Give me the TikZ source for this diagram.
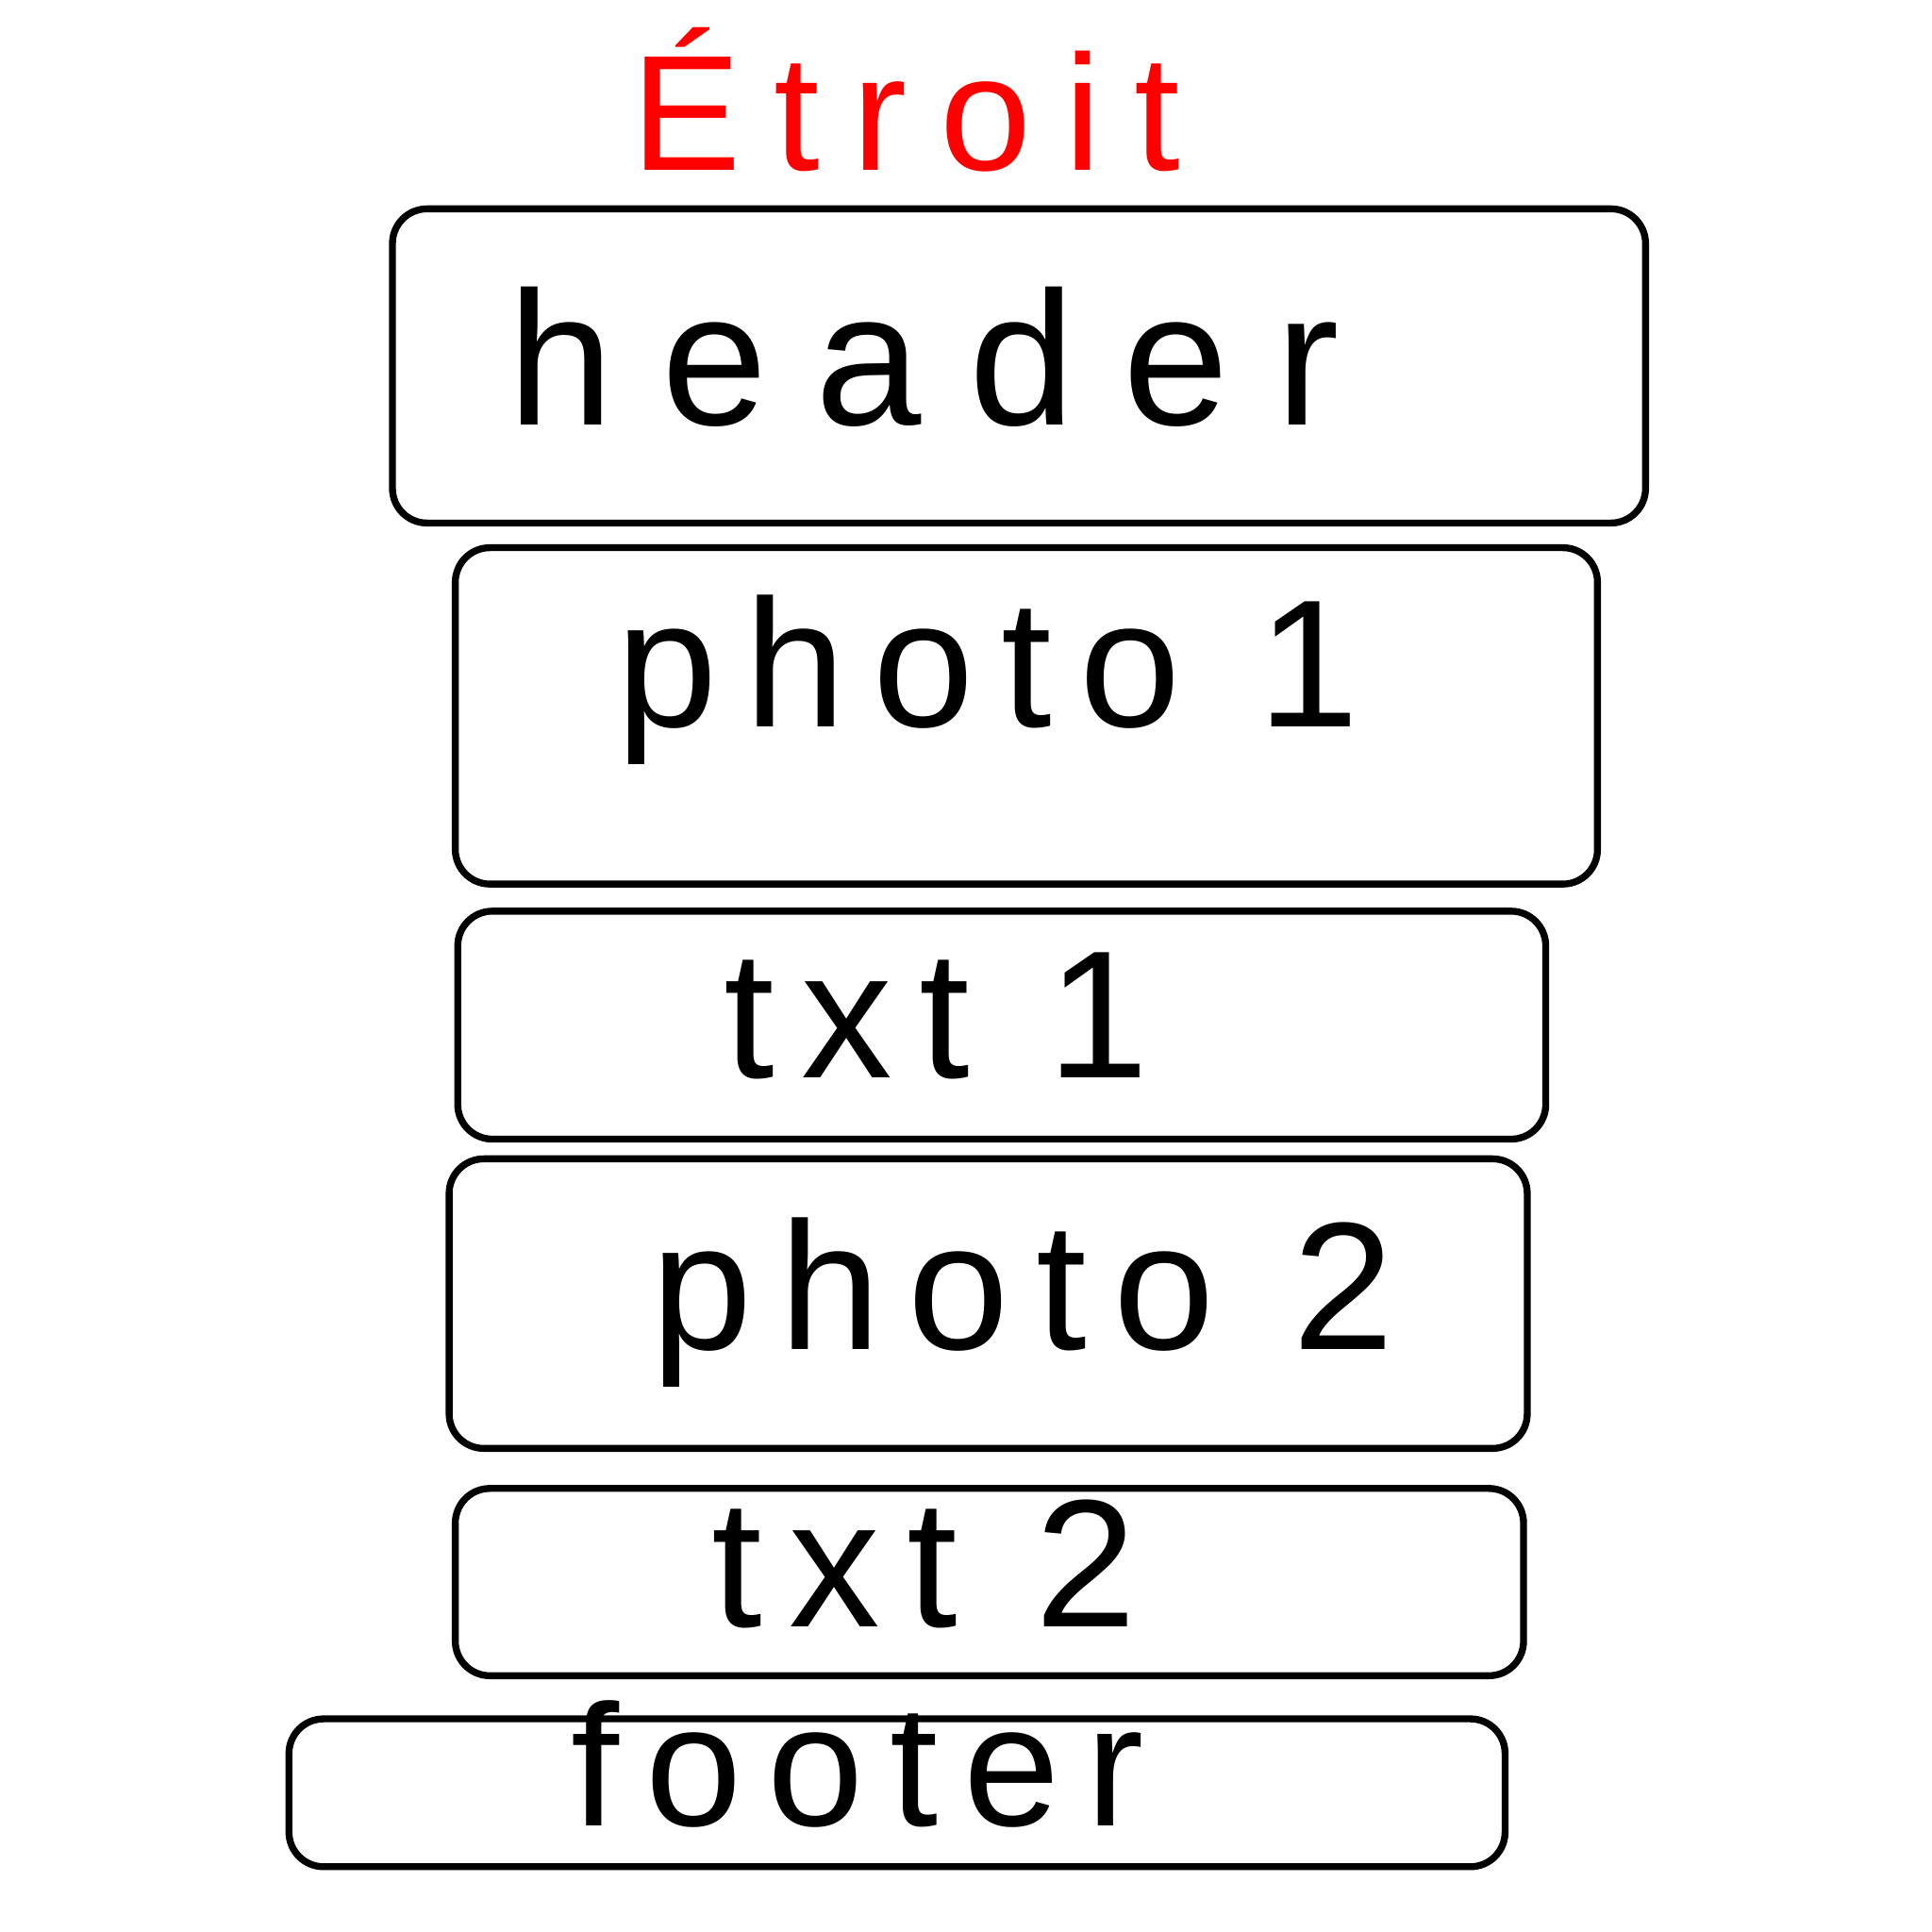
\documentclass[tikz,border=0pt]{standalone}
\usepackage{fontspec}
\setmainfont{Liberation Sans}
\newfontfamily\handfont[LetterSpace=15]{Liberation Sans}
\newfontfamily\titlefont[LetterSpace=20]{Liberation Sans}
\usetikzlibrary{shapes,calc,positioning}
\tikzset{blk/.style={draw, rectangle, rounded corners=8pt, line width=1.6pt, inner sep=0pt}}
\tikzstyle{lbl}=[inner sep=0pt, anchor=base, font=\handfont\fontsize{42}{50}\selectfont]

\begin{document}
\begin{tikzpicture}[x=1cm, y=1cm]
\useasboundingbox (0,0) rectangle (15.68,-15.68);
\node[lbl, text=red, font=\titlefont\fontsize{38}{46}\selectfont] (T) at (7.35,-1.38) {Étroit};

\node[blk, minimum width=10.17cm, minimum height=2.55cm] (H) at (8.27,-2.97) {};
\node[blk, minimum width=9.27cm, minimum height=2.73cm] (P1) at (8.33,-5.81) {};
\node[blk, minimum width=8.83cm, minimum height=1.85cm] (X1) at (8.13,-8.32) {};
\node[blk, minimum width=8.75cm, minimum height=2.35cm] (P2) at (8.02,-10.58) {};
\node[blk, minimum width=8.67cm, minimum height=1.52cm] (X2) at (8.03,-12.84) {};
\node[blk, minimum width=9.87cm, minimum height=1.20cm] (F) at (7.28,-14.55) {};

\node[lbl, font=\handfont\fontsize{44}{50}\selectfont\addfontfeatures{LetterSpace=25}] (Ht) at (7.50,-3.45) {header};
\node[lbl] (P1t) at (8.02,-5.90) {photo 1};
\node[lbl] (X1t) at (7.60,-8.75) {txt 1};
\node[lbl] (P2t) at (8.30,-10.95) {photo 2};
\node[lbl] (X2t) at (7.50,-13.20) {txt 2};
\node[lbl, font=\handfont\fontsize{40}{48}\selectfont] (Ft) at (6.96,-14.82) {footer};
\end{tikzpicture}
\end{document}
